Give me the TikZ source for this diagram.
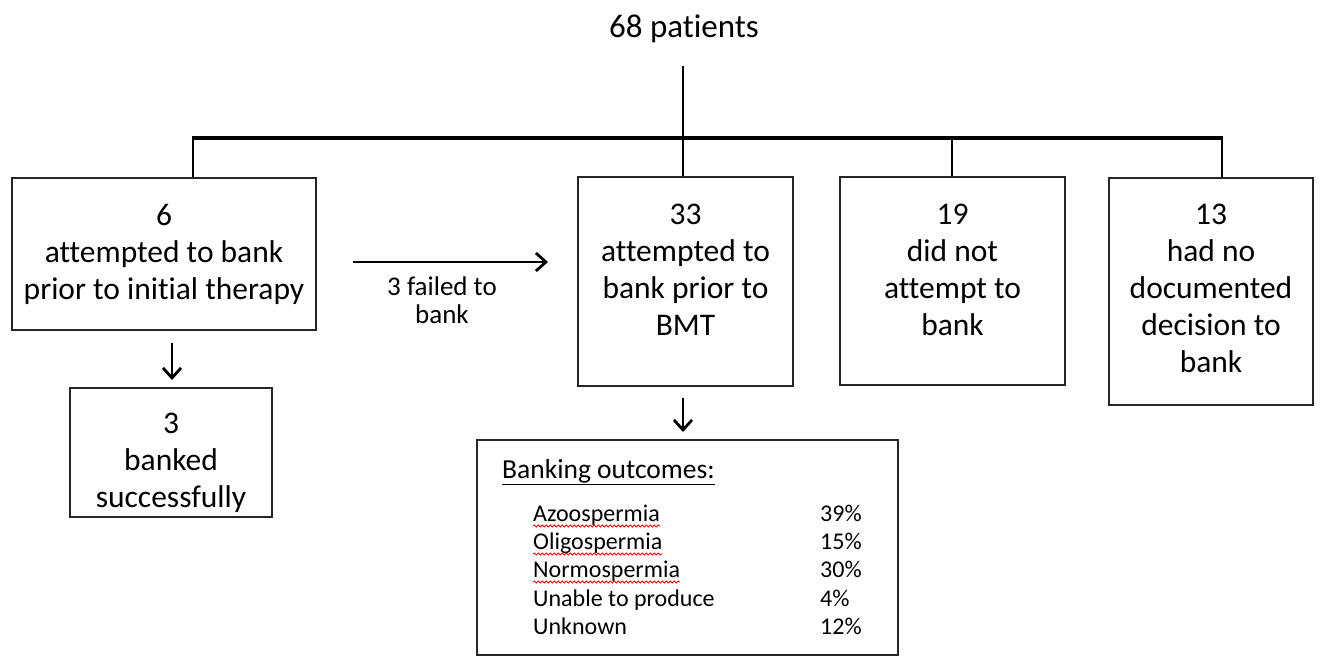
\documentclass[tikz,border=0pt]{standalone}
\usepackage{fontspec}
\setmainfont{Carlito}[Ligatures=NoCommon]
\usetikzlibrary{arrows.meta,decorations.pathmorphing}
\tikzset{
  box/.style={draw=black!85, line width=2.6pt, inner sep=0pt},
  big/.style={font=\fontsize{31.5}{37}\selectfont, align=center, inner sep=0pt, anchor=north},
  small/.style={font=\fontsize{24}{25}\selectfont, inner sep=0pt, anchor=base west},
  lbl/.style={font=\fontsize{27}{28}\selectfont, align=center, inner sep=0pt, anchor=base},
  tree/.style={line width=2.4pt},
  bar/.style={line width=4.5pt},
  arr/.style={line width=2.8pt, -{Straight Barb[length=10pt,width=18pt,line width=2.8pt]}},
  wavy/.style={red, line width=0.8pt, decorate, decoration={snake, amplitude=1pt, segment length=4pt}}
}
\begin{document}
\begin{tikzpicture}[x=1pt,y=-1pt]
\useasboundingbox (0,0) rectangle (1320,657);
% title
\node[font=\fontsize{33}{36}\selectfont, inner sep=0pt, anchor=base] (top) at (684,37) {68 patients};
% boxes
\node[box, minimum width=304pt, minimum height=152pt] (b1) at (164,254) {};
\node[box, minimum width=215pt, minimum height=209pt] (b2) at (685.5,281.5) {};
\node[box, minimum width=225pt, minimum height=208pt] (b3) at (952.5,281) {};
\node[box, minimum width=204pt, minimum height=227pt] (b4) at (1211,291.5) {};
\node[box, minimum width=202pt, minimum height=129pt] (b5) at (171,452.5) {};
\node[box, minimum width=421pt, minimum height=215pt] (b6) at (687.5,547.5) {};
% texts
\node[big] (t1) at (164,204) {6\\attempted to bank\\prior to initial therapy};
\node[big] (t2) at (685.5,204) {33\\attempted to\\bank prior to\\BMT};
\node[big] (t3) at (952.5,204) {19\\did not\\attempt to\\bank};
\node[big] (t4) at (1211,204) {13\\had no\\documented\\decision to\\bank};
\node[big] (t5) at (171,413) {3\\banked\\successfully};
% tree
\coordinate (vt) at (683,66);
\coordinate (j) at (683,138);
\coordinate (bl) at (193,138);
\coordinate (br) at (1222,138);
\coordinate (j3) at (952,138);
\draw[tree] (vt) -- (j);
\draw[bar] ([xshift=-1.2pt]bl) -- ([xshift=1.2pt]br);
\draw[tree] (bl) -- (bl |- b1.north);
\draw[tree] (j) -- (j |- b2.north);
\draw[tree] (j3) -- (j3 |- b3.north);
\draw[tree] (br) -- (br |- b4.north);
% arrows
\coordinate (a1s) at (172,343);
\coordinate (a1e) at (172,380);
\draw[arr] (a1s) -- (a1e);
\coordinate (a2s) at (683,398);
\coordinate (a2e) at (683,432);
\draw[arr] (a2s) -- (a2e);
\coordinate (hs) at (353,262);
\coordinate (he) at (548,262);
\draw[arr] (hs) -- (he);
\node[lbl] (fl1) at (442,295) {3 failed to};
\node[lbl] (fl2) at (442,323) {bank};
% outcomes
\node[small, font=\fontsize{27.5}{28}\selectfont] (oh) at (502,478) {\underline{Banking outcomes:}};
\node[small] (o1) at (533,521) {Azoospermia};
\node[small] (o2) at (533,549) {Oligospermia};
\node[small] (o3) at (533,577) {Normospermia};
\node[small] (o4) at (533,606) {Unable to produce};
\node[small] (o5) at (533,634) {Unknown};
\node[small] (p1) at (820,521) {39\%};
\node[small] (p2) at (820,549) {15\%};
\node[small] (p3) at (820,577) {30\%};
\node[small] (p4) at (820,606) {4\%};
\node[small] (p5) at (820,634) {12\%};
\draw[wavy] (533,526) -- (o1.east |- 0,526);
\draw[wavy] (533,554) -- (o2.east |- 0,554);
\draw[wavy] (533,582) -- (o3.east |- 0,582);
\end{tikzpicture}
\end{document}
